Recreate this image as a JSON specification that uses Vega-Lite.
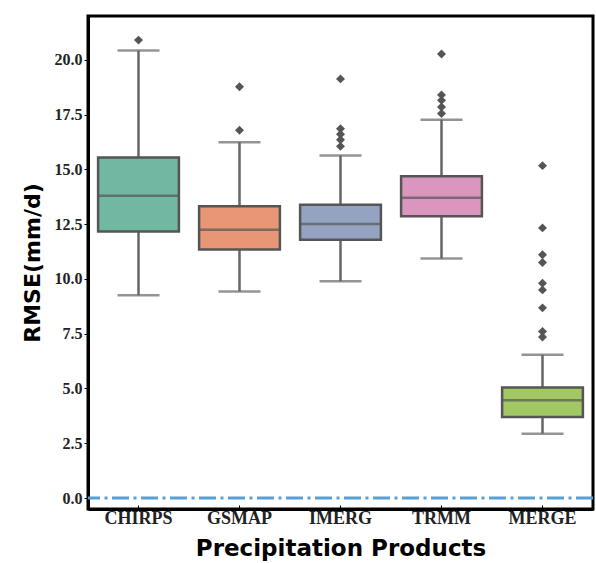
{
  "$schema": "https://vega.github.io/schema/vega-lite/v6.json",
  "width": 505,
  "height": 493,
  "autosize": {"type": "none"},
  "padding": {"left": 88, "top": 16, "right": 3, "bottom": 54},
  "background": "white",
  "config": {
    "view": {"stroke": "black", "strokeWidth": 3},
    "axis": {"grid": false, "domainColor": "black", "domainWidth": 3, "tickColor": "black"}
  },
  "datasets": {
    "stats": [
      {"product": "CHIRPS", "lower": 9.25, "q1": 12.17, "median": 13.8, "q3": 15.54, "upper": 20.42},
      {"product": "GSMAP", "lower": 9.43, "q1": 11.34, "median": 12.25, "q3": 13.32, "upper": 16.24},
      {"product": "IMERG", "lower": 9.89, "q1": 11.79, "median": 12.51, "q3": 13.39, "upper": 15.63},
      {"product": "TRMM", "lower": 10.93, "q1": 12.86, "median": 13.7, "q3": 14.69, "upper": 17.27},
      {"product": "MERGE", "lower": 2.94, "q1": 3.7, "median": 4.46, "q3": 5.05, "upper": 6.54}
    ],
    "outliers": [
      {"product": "CHIRPS", "value": 20.9},
      {"product": "GSMAP", "value": 18.77},
      {"product": "GSMAP", "value": 16.79},
      {"product": "IMERG", "value": 19.13},
      {"product": "IMERG", "value": 16.85},
      {"product": "IMERG", "value": 16.6},
      {"product": "IMERG", "value": 16.35},
      {"product": "IMERG", "value": 16.05},
      {"product": "TRMM", "value": 20.27},
      {"product": "TRMM", "value": 18.4},
      {"product": "TRMM", "value": 18.15},
      {"product": "TRMM", "value": 17.85},
      {"product": "TRMM", "value": 17.55},
      {"product": "MERGE", "value": 15.17},
      {"product": "MERGE", "value": 12.33},
      {"product": "MERGE", "value": 11.1},
      {"product": "MERGE", "value": 10.75},
      {"product": "MERGE", "value": 9.8},
      {"product": "MERGE", "value": 9.5},
      {"product": "MERGE", "value": 8.68},
      {"product": "MERGE", "value": 7.6},
      {"product": "MERGE", "value": 7.35}
    ],
    "zero": [{"level": 0}]
  },
  "layer": [
    {
      "data": {"name": "stats"},
      "mark": {"type": "rule", "color": "#666666", "strokeWidth": 2.5},
      "encoding": {
        "x": {
          "field": "product",
          "type": "nominal",
          "sort": ["CHIRPS", "GSMAP", "IMERG", "TRMM", "MERGE"],
          "scale": {"paddingInner": 0, "paddingOuter": 0},
          "axis": {
            "title": "Precipitation Products",
            "titleFont": "DejaVu Sans",
            "titleFontWeight": "bold",
            "titleFontSize": 23,
            "titleColor": "black",
            "titlePadding": 10,
            "labelFont": "Liberation Serif",
            "labelFontWeight": "bold",
            "labelFontSize": 18,
            "labelColor": "#222",
            "labelAngle": 0,
            "labelPadding": 4,
            "tickSize": -4,
            "tickWidth": 1
          }
        },
        "y": {
          "field": "lower",
          "type": "quantitative",
          "scale": {"domain": [-0.5, 22], "nice": false, "zero": false},
          "axis": {
            "title": "RMSE(mm/d)",
            "titleFont": "DejaVu Sans",
            "titleFontWeight": "bold",
            "titleFontSize": 22,
            "titleColor": "black",
            "titlePadding": 10,
            "values": [0, 2.5, 5, 7.5, 10, 12.5, 15, 17.5, 20],
            "format": ".1f",
            "labelFont": "Liberation Serif",
            "labelFontWeight": "bold",
            "labelFontSize": 16,
            "labelColor": "#222",
            "labelPadding": 2,
            "tickSize": 4,
            "tickWidth": 1
          }
        },
        "y2": {"field": "q1"}
      }
    },
    {
      "data": {"name": "stats"},
      "mark": {"type": "rule", "color": "#666666", "strokeWidth": 2.5},
      "encoding": {
        "x": {"field": "product", "type": "nominal", "sort": ["CHIRPS", "GSMAP", "IMERG", "TRMM", "MERGE"]},
        "y": {"field": "q3", "type": "quantitative"},
        "y2": {"field": "upper"}
      }
    },
    {
      "data": {"name": "stats"},
      "mark": {"type": "tick", "color": "#666666", "size": 42, "thickness": 2.5},
      "encoding": {
        "x": {"field": "product", "type": "nominal", "sort": ["CHIRPS", "GSMAP", "IMERG", "TRMM", "MERGE"]},
        "y": {"field": "lower", "type": "quantitative"}
      }
    },
    {
      "data": {"name": "stats"},
      "mark": {"type": "tick", "color": "#666666", "size": 42, "thickness": 2.5},
      "encoding": {
        "x": {"field": "product", "type": "nominal", "sort": ["CHIRPS", "GSMAP", "IMERG", "TRMM", "MERGE"]},
        "y": {"field": "upper", "type": "quantitative"}
      }
    },
    {
      "data": {"name": "stats"},
      "mark": {"type": "bar", "width": {"band": 0.8}, "stroke": "#555555", "strokeWidth": 2.5, "opacity": 1},
      "encoding": {
        "x": {"field": "product", "type": "nominal", "sort": ["CHIRPS", "GSMAP", "IMERG", "TRMM", "MERGE"]},
        "y": {"field": "q1", "type": "quantitative"},
        "y2": {"field": "q3"},
        "fill": {
          "field": "product",
          "type": "nominal",
          "scale": {
            "domain": ["CHIRPS", "GSMAP", "IMERG", "TRMM", "MERGE"],
            "range": ["#72b7a1", "#e89675", "#95a3c3", "#db96c0", "#a2c864"]
          },
          "legend": null
        }
      }
    },
    {
      "data": {"name": "stats"},
      "mark": {"type": "tick", "color": "#555555", "size": 81, "thickness": 2.5},
      "encoding": {
        "x": {"field": "product", "type": "nominal", "sort": ["CHIRPS", "GSMAP", "IMERG", "TRMM", "MERGE"]},
        "y": {"field": "median", "type": "quantitative"}
      }
    },
    {
      "data": {"name": "outliers"},
      "mark": {"type": "point", "shape": "diamond", "filled": true, "color": "#555555", "size": 80, "opacity": 1},
      "encoding": {
        "x": {"field": "product", "type": "nominal", "sort": ["CHIRPS", "GSMAP", "IMERG", "TRMM", "MERGE"]},
        "y": {"field": "value", "type": "quantitative"}
      }
    },
    {
      "data": {"name": "zero"},
      "mark": {"type": "rule", "color": "#5a9fd4", "strokeWidth": 3, "strokeDash": [17, 4.5, 3, 4.5]},
      "encoding": {"y": {"field": "level", "type": "quantitative"}}
    }
  ]
}
